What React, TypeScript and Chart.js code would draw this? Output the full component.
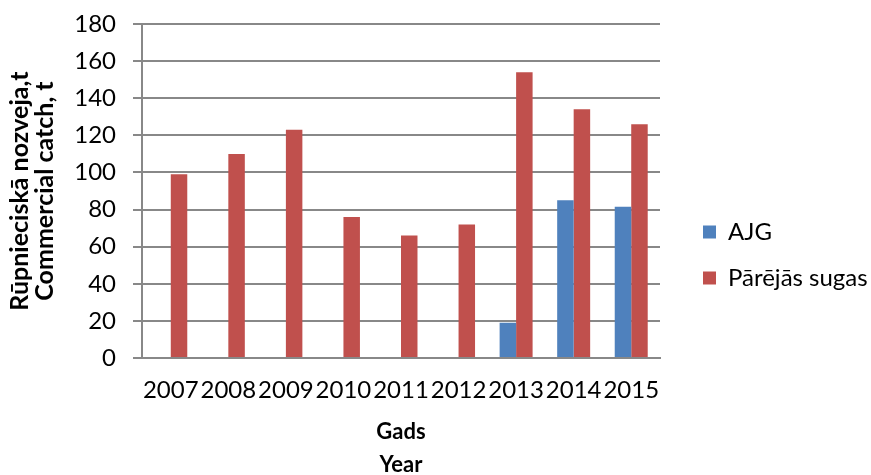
import React, { useEffect, useRef } from "react";
import { Chart, registerables } from "chart.js";

Chart.register(...registerables);

const years = ["2007", "2008", "2009", "2010", "2011", "2012", "2013", "2014", "2015"];
const ajg = [null, null, null, null, null, null, 19, 85, 81.5];
const otherSpecies = [99, 110, 123, 76, 66, 72, 154, 134, 126];
const yTitle = ["Rūpnieciskā nozveja,t", "Commercial catch, t"];
const xTitle = ["Gads", "Year"];
const seriesNames = ["AJG", "Pārējās sugas"];

const FONT = "Lato, 'Open Sans', sans-serif";
const GRID = "#888888";

export default function App() {
  const ref = useRef<HTMLCanvasElement | null>(null);
  useEffect(() => {
    if (!ref.current) return;
    const chart = new Chart(ref.current, {
      type: "bar",
      data: {
        labels: years,
        datasets: [
          { label: seriesNames[0], data: ajg, backgroundColor: "#4F81BD", categoryPercentage: 0.573, barPercentage: 1 },
          { label: seriesNames[1], data: otherSpecies, backgroundColor: "#C0504D", categoryPercentage: 0.573, barPercentage: 1 },
        ],
      },
      options: {
        responsive: false,
        animation: false,
        layout: { padding: { top: 24, bottom: 1, left: 0, right: 0 } },
        plugins: {
          tooltip: { enabled: false },
          legend: {
            position: "right",
            align: "center",
            maxWidth: 190,
            title: { display: true, text: "", font: { size: 10 }, padding: 0 },
            labels: {
              boxWidth: 13,
              boxHeight: 13,
              padding: 22,
              color: "#000",
              font: { family: FONT, size: 24 },
            },
          },
        },
        scales: {
          x: {
            grid: { display: false, drawTicks: false },
            border: { display: true, color: GRID, width: 2 },
            ticks: { color: "#000", font: { family: FONT, size: 24 }, padding: 18, maxRotation: 0, autoSkip: false },
            title: {
              display: true,
              text: xTitle,
              color: "#000",
              font: { family: FONT, size: 22, weight: "bold", lineHeight: 1.5 },
              padding: { top: 0, bottom: -7 },
            },
            afterFit: (s: any) => { s.height = 116; },
          },
          y: {
            min: 0,
            max: 180,
            ticks: { stepSize: 20, color: "#000", font: { family: FONT, size: 24 }, padding: 17 },
            grid: { color: GRID, lineWidth: 2, tickLength: 9, drawTicks: true },
            border: { display: true, color: GRID, width: 2 },
            title: {
              display: true,
              text: yTitle,
              color: "#000",
              font: { family: FONT, size: 25, weight: "bold", lineHeight: 1.0 },
              padding: { top: 7.5, bottom: 0 },
            },
            afterFit: (s: any) => {
              s.width = 142;
              s.paddingTop = 0;
              s.paddingBottom = 0;
            },
          },
          y2: {
            type: "linear",
            position: "right",
            display: true,
            grid: { display: false, drawTicks: false },
            border: { display: false },
            ticks: { display: false },
            afterFit: (s: any) => { s.width = 21; },
          },
        },
      },
    });
    return () => chart.destroy();
  }, []);
  return (
    <div style={{ position: "absolute", left: 0, top: 0, width: 871, height: 475, background: "#fff" }}>
      <canvas ref={ref} width={871} height={475} />
    </div>
  );
}
